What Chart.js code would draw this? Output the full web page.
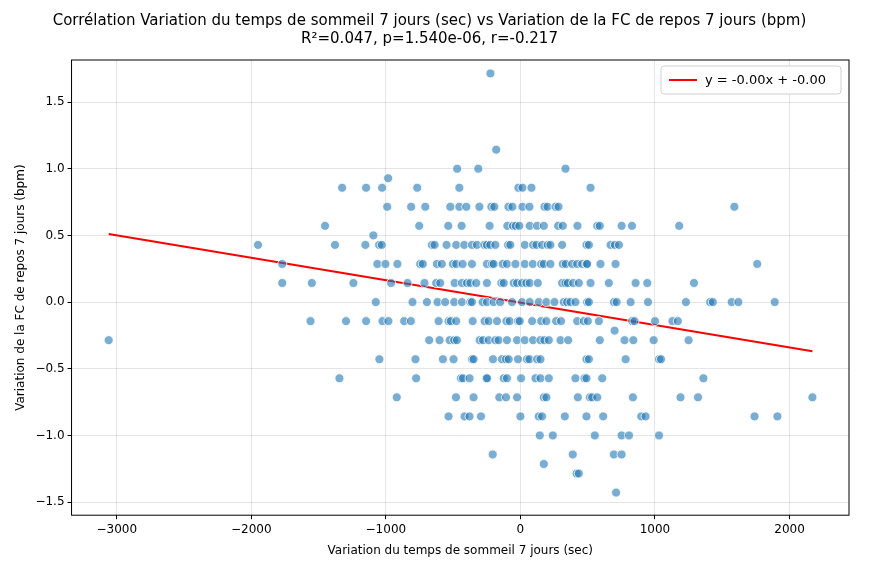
<!DOCTYPE html>
<html>
<head>
<meta charset="utf-8">
<script src="https://cdn.jsdelivr.net/npm/chart.js@4.4.0/dist/chart.umd.min.js"></script>
<style>
  html, body { margin: 0; padding: 0; background: #fff; }
  #wrap { width: 887px; height: 568px; }
</style>
</head>
<body>
<div id="wrap"><canvas id="c"></canvas></div>
<script>
// Valeurs FC quantifiées par pas de 1/7 bpm : une liste de x (sec) par niveau
const rowLevels = [12, 8, 7, 6.5, 6, 5, 4, 3.5, 3, 2, 1, 0, -1, -1.5, -2, -3, -4, -5, -6, -7, -8, -8.5, -9, -10];
const rowX = [
  [-223],
  [-180],
  [-470, -313, 335],
  [-983],
  [-1325, -1147, -1028, -767, -454, -15, 15, 82, 521],
  [-990, -812, -707, -521, -454, -402, -305, -216, -194, -89, -60, 15, 67, 179, 201, 261, 283, 1590],
  [-1452, -752, -536, -437, -229, -97, -55, -35, -8, 69, 124, 174, 280, 315, 424, 571, 590, 752, 829, 1180],
  [-1093],
  [-1950, -1378, -1152, -1050, -1030, -658, -638, -549, -477, -417, -360, -323, -268, -249, -224, -186, -92, -75, 32, 94, 119, 161, 203, 223, 310, 491, 509, 670, 702, 732],
  [-1770, -1063, -1003, -914, -745, -725, -621, -584, -502, -477, -430, -360, -249, -211, -199, -132, -100, -37, 32, 92, 154, 174, 223, 315, 337, 384, 422, 459, 491, 496, 595, 707, 1760],
  [-1770, -1550, -1241, -961, -839, -713, -626, -596, -489, -435, -397, -372, -328, -249, -142, -124, -50, -25, 12, 44, 69, 129, 310, 335, 352, 392, 434, 521, 657, 856, 943, 1290],
  [-1075, -802, -695, -616, -559, -492, -435, -373, -360, -281, -249, -199, -150, -62, 12, 69, 136, 193, 253, 322, 347, 372, 409, 496, 509, 695, 715, 819, 948, 1230, 1410, 1430, 1570, 1620, 1890],
  [-1560, -1296, -1147, -1025, -981, -864, -814, -608, -534, -517, -477, -355, -266, -236, -174, -104, -80, -18, -5, 87, 154, 193, 265, 302, 422, 471, 501, 583, 831, 848, 1000, 1130, 1170],
  [700],
  [-3060, -678, -601, -526, -492, -472, -303, -278, -236, -186, -162, -100, -25, 32, 94, 149, 178, 211, 298, 355, 590, 774, 839, 990, 1250],
  [-1048, -780, -576, -497, -360, -348, -204, -137, -107, -87, -18, 49, 67, 124, 149, 491, 509, 782, 1030, 1045],
  [-1345, -775, -442, -427, -378, -253, -248, -124, -100, 5, 112, 149, 211, 409, 476, 491, 608, 1360],
  [-919, -479, -348, -157, -107, -25, 174, 193, 427, 516, 533, 571, 836, 1190, 1320, 2170],
  [-534, -415, -378, -293, 0, 136, 161, 330, 491, 615, 898, 930, 1740, 1910],
  [144, 241, 553, 752, 807, 1030],
  [-206, 389, 695, 752],
  [174],
  [417, 434],
  [711]
];
const slope = -0.000168;
const intercept = -0.0045;
const xTicks = [-3000, -2000, -1000, 0, 1000, 2000];
const yTicks = [-1.5, -1, -0.5, 0, 0.5, 1, 1.5];

const points = [];
rowLevels.forEach((k, i) => rowX[i].forEach(x => points.push({ x: x, y: k / 7 })));
const xs = points.map(p => p.x);
const xMin = Math.min(...xs), xMax = Math.max(...xs);

const legendBox = {
  id: 'legendBox',
  afterDraw(chart) {
    const { ctx, chartArea } = chart;
    const w = 180, h = 28;
    const x0 = chartArea.right - w - 8, y0 = chartArea.top + 6;
    ctx.save();
    ctx.fillStyle = 'rgba(255,255,255,0.85)';
    ctx.strokeStyle = '#d0d0d0';
    ctx.lineWidth = 1;
    ctx.beginPath();
    ctx.roundRect(x0, y0, w, h, 3);
    ctx.fill(); ctx.stroke();
    ctx.strokeStyle = 'red';
    ctx.lineWidth = 2;
    ctx.beginPath();
    ctx.moveTo(x0 + 8, y0 + h / 2); ctx.lineTo(x0 + 36, y0 + h / 2); ctx.stroke();
    ctx.fillStyle = '#000';
    ctx.font = '13px "DejaVu Sans"';
    ctx.textBaseline = 'middle';
    ctx.fillText('y = -0.00x + -0.00', x0 + 44, y0 + h / 2 + 1);
    ctx.restore();
  }
};

const frame = {
  id: 'frame',
  afterDraw(chart) {
    const { ctx, chartArea: a } = chart;
    ctx.save();
    ctx.strokeStyle = '#000'; ctx.lineWidth = 1;
    ctx.strokeRect(a.left, a.top, a.right - a.left, a.bottom - a.top);
    ctx.restore();
  }
};

new Chart(document.getElementById('c'), {
  type: 'scatter',
  data: {
    datasets: [
      {
        label: 'points',
        data: points,
        backgroundColor: 'rgba(31,119,180,0.6)',
        borderColor: 'rgba(255,255,255,0.8)',
        borderWidth: 1,
        pointRadius: 4.5
      },
      {
        label: 'y = -0.00x + -0.00',
        type: 'line',
        data: [{ x: xMin, y: slope * xMin + intercept }, { x: xMax, y: slope * xMax + intercept }],
        borderColor: 'red',
        borderWidth: 2,
        pointRadius: 0
      }
    ]
  },
  options: {
    responsive: true,
    maintainAspectRatio: false,
    animation: false,
    layout: { padding: { left: 10, right: 38, top: 10, bottom: 6 } },
    plugins: {
      legend: { display: false },
      tooltip: { enabled: false },
      title: {
        display: true,
        text: ['Corrélation Variation du temps de sommeil 7 jours (sec) vs Variation de la FC de repos 7 jours (bpm)',
               'R²=0.047, p=1.540e-06, r=-0.217'],
        color: '#000',
        font: { family: 'DejaVu Sans', size: 15, weight: 'normal', lineHeight: 1.2 },
        padding: { top: 2, bottom: 12 }
      }
    },
    scales: {
      x: {
        type: 'linear',
        min: -3336, max: 2442,
        afterBuildTicks(s) { s.ticks = xTicks.map(v => ({ value: v })); },
        grid: { color: 'rgba(0,0,0,0.1)', drawTicks: true, tickLength: 4, tickColor: '#000' },
        border: { display: false },
        ticks: { color: '#000', font: { family: 'DejaVu Sans', size: 12 }, callback: v => v < 0 ? '−' + Math.abs(v) : String(v) },
        title: { display: true, text: 'Variation du temps de sommeil 7 jours (sec)', color: '#000', font: { family: 'DejaVu Sans', size: 12 } }
      },
      y: {
        min: -1.598, max: 1.815,
        afterBuildTicks(s) { s.ticks = yTicks.map(v => ({ value: v })); },
        grid: { color: 'rgba(0,0,0,0.1)', tickLength: 4, tickColor: '#000' },
        border: { display: false },
        ticks: { color: '#000', font: { family: 'DejaVu Sans', size: 12 }, callback: v => (v < 0 ? '−' : '') + Math.abs(v).toFixed(1) },
        title: { display: true, text: 'Variation de la FC de repos 7 jours (bpm)', color: '#000', font: { family: 'DejaVu Sans', size: 12 } }
      }
    }
  },
  plugins: [legendBox, frame]
});
</script>
</body>
</html>
